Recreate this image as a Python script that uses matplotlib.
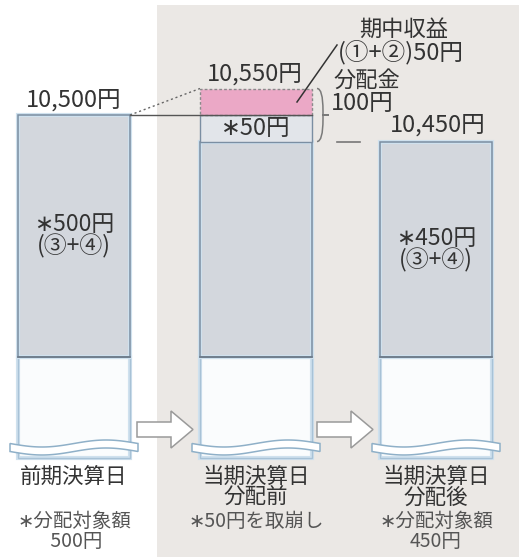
import numpy as np
import matplotlib.pyplot as plt
from matplotlib.patches import Rectangle, Polygon
from matplotlib.path import Path
from matplotlib.patches import PathPatch

plt.rcParams['font.family'] = ['Noto Sans CJK JP', 'DejaVu Sans']

# values (yen per 10,000 units)
prev_nav = 10500          # 前期決算日
income = 50               # 期中収益 (①+②)
dist_total = 100          # 分配金
after_nav = 10450         # 当期決算日 分配後
before_nav = prev_nav + income
reversal = dist_total - income

nav_labels = ["10,500円", "10,550円", "10,450円"]
bottom_titles = ["前期決算日", "当期決算日\n分配前", "当期決算日\n分配後"]
bottom_notes = ["∗分配対象額\n 500円", "∗50円を取崩し", "∗分配対象額\n450円"]
body_labels = ["∗500円\n(③+④)", "", "∗450円\n(③+④)"]

# layout: x in pixels, y in yen (k pixels per yen)
W, H = 519, 557
k = 0.53
v_top = prev_nav + 115 / k
v_bot = v_top - H / k


def py(p):
    """pixel row -> yen coordinate"""
    return v_top - p / k


gray_floor = py(357)
white_floor = py(458)
bar_left = [18, 200, 380]
bar_w = 112

EDGE = '#7b8ea2'
GLOW = '#cfe1ee'
GRAY = '#d3d7dd'
LIGHT = '#e2e5ea'
PINK = '#eba8c6'
TXT = '#333333'

fig = plt.figure(figsize=(W / 100, H / 100), dpi=100)
ax = fig.add_axes([0, 0, 1, 1])
ax.set_xlim(0, W)
ax.set_ylim(v_bot, v_top)
ax.axis('off')

# shaded panel behind the current-period columns
ax.add_patch(Rectangle((157, v_bot), W - 157, py(5) - v_bot,
                       facecolor='#ebe8e5', edgecolor='none', zorder=0))


def column(x, top, z=2):
    # lower white (broken) part
    ax.add_patch(Rectangle((x, white_floor), bar_w, gray_floor - white_floor,
                           facecolor='#fafcfd', edgecolor=GLOW, lw=3, zorder=z))
    ax.add_patch(Rectangle((x, white_floor), bar_w, gray_floor - white_floor,
                           facecolor='none', edgecolor='#a8c2d6', lw=1, zorder=z))
    # gray body
    ax.add_patch(Rectangle((x, gray_floor), bar_w, top - gray_floor,
                           facecolor=GRAY, edgecolor=GLOW, lw=3, zorder=z))
    ax.add_patch(Rectangle((x, gray_floor), bar_w, top - gray_floor,
                           facecolor='none', edgecolor=EDGE, lw=1.1, zorder=z + 0.1))
    ax.plot([x, x + bar_w], [gray_floor, gray_floor], color='#6c7a88', lw=1.2, zorder=z + 0.2)


def wave(x):
    t = np.linspace(0, 1, 60)
    xs = x - 8 + t * (bar_w + 16)
    top = 443.5 + 3.5 * np.sin(2 * np.pi * t)
    bot = top + 8
    pts = np.column_stack([np.r_[xs, xs[::-1]], py(np.r_[top, bot[::-1]])])
    ax.add_patch(Polygon(pts, closed=True, facecolor='white', edgecolor='#8fb0c8',
                         lw=1.1, zorder=4))


def block_arrow(x0, x1):
    xh = x1 - 22
    pts = [(x0, 422), (xh, 422), (xh, 411), (x1, 429.5), (xh, 448), (xh, 437), (x0, 437)]
    pts = [(a, py(b)) for a, b in pts]
    ax.add_patch(Polygon(pts, closed=True, facecolor='white', edgecolor='#9a9a9a',
                         lw=1.1, zorder=4))


# columns
column(bar_left[0], prev_nav)
column(bar_left[1], after_nav)
column(bar_left[2], after_nav)

# distribution part of the middle column
x2 = bar_left[1]
ax.add_patch(Rectangle((x2, after_nav), bar_w, reversal, facecolor=LIGHT,
                       edgecolor=EDGE, lw=1, zorder=3))
ax.add_patch(Rectangle((x2, prev_nav), bar_w, income, facecolor=PINK,
                       edgecolor='#8a8a8a', lw=1, ls=(0, (2, 1.5)), zorder=3))

for x in bar_left:
    wave(x)
block_arrow(137, 193)
block_arrow(317, 373)

# connectors between columns
ax.plot([bar_left[0] + bar_w, x2 + bar_w], [prev_nav, prev_nav], color='#555555', lw=1, zorder=5)
ax.plot([bar_left[0] + bar_w, x2], [prev_nav, before_nav], color='#666666', lw=1,
        ls=(0, (1.5, 2)), zorder=5)
ax.plot([337, 360], [after_nav, after_nav], color='#777777', lw=1.2, zorder=5)

# brace for the distribution
bx, y_hi, y_lo = x2 + bar_w + 5, before_nav, after_nav
ym = (y_hi + y_lo) / 2
d = 6
verts = [(bx, y_hi), (bx + d, y_hi), (bx + d, ym + 8), (bx + d, ym), (bx + d, ym),
         (bx + 2 * d, ym), (bx + d, ym), (bx + d, ym), (bx + d, ym - 8),
         (bx + d, y_lo), (bx, y_lo)]
codes = [Path.MOVETO, Path.CURVE3, Path.CURVE3, Path.LINETO, Path.CURVE3, Path.CURVE3,
         Path.CURVE3, Path.CURVE3, Path.LINETO, Path.CURVE3, Path.CURVE3]
ax.add_patch(PathPatch(Path(verts, codes), facecolor='none', edgecolor='#7a7a7a',
                       lw=1.1, zorder=5))

# leader from the pink block to its label
ax.plot([297, 337], [py(102), py(45)], color='#333333', lw=1.1, zorder=6)

# value labels
fn = 17
ax.text(74, py(100), nav_labels[0], ha='center', va='center', fontsize=fn, color=TXT, zorder=7)
ax.text(255, py(74), nav_labels[1], ha='center', va='center', fontsize=fn, color=TXT, zorder=7)
ax.text(438, py(125), nav_labels[2], ha='center', va='center', fontsize=fn, color=TXT, zorder=7)
ax.text(256, (prev_nav + after_nav) / 2, f"∗{reversal}円", ha='center', va='center',
        fontsize=fn, color=TXT, zorder=7)
ax.text(404, py(29), "期中収益", ha='center', va='center', fontsize=16, color=TXT, zorder=7)
ax.text(401, py(52), f"(①+②){income}円", ha='center', va='center', fontsize=fn,
        color=TXT, zorder=7)
ax.text(334, py(80), "分配金", ha='left', va='center', fontsize=16, color=TXT, zorder=7)
ax.text(331, py(103), f"{dist_total}円", ha='left', va='center', fontsize=fn, color=TXT, zorder=7)

centers = [x + bar_w / 2 for x in bar_left]
body_y = [236, None, 250]
for cx, lab, yy in zip(centers, body_labels, body_y):
    if lab:
        ax.text(cx, py(yy), lab, ha='center', va='center', fontsize=16.5, color=TXT,
                linespacing=0.9, zorder=7)

for cx, title, note in zip(centers, bottom_titles, bottom_notes):
    ax.text(cx, py(466), title, ha='center', va='top', fontsize=15.5, color=TXT,
            linespacing=0.9, zorder=7)
    ax.text(cx, py(511), note, ha='center', va='top', fontsize=14, color='#555555',
            linespacing=0.95, zorder=7)

fig.savefig('out.png', dpi=100)
